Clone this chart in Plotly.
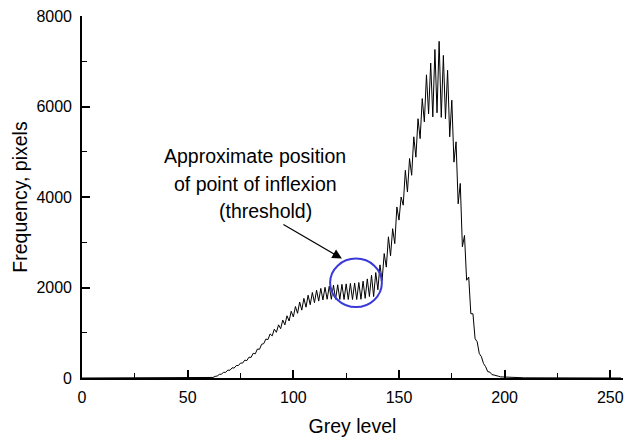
import plotly.graph_objects as go

# ---- data -------------------------------------------------------------
grey_levels = list(range(256))

freq_0_59 = [0, 0, 0, 0, 0, 0, 0, 0, 0, 0, 0, 0, 0, 0, 0, 0, 0, 0, 0, 0,
             0, 0, 0, 0, 0, 0, 0, 0, 0, 0, 0, 0, 0, 0, 0, 0, 0, 0, 0, 0,
             0, 0, 0, 0, 0, 0, 0, 0, 0, 0, 0, 0, 0, 0, 0, 0, 0, 0, 0, 0]

freq_60_139 = [0, 5, 12, 35, 45, 80, 85, 125, 125, 175,
               170, 225, 220, 275, 275, 330, 330, 395, 385, 460,
               455, 545, 535, 640, 635, 745, 760, 860, 850, 975,
               930, 1080, 1010, 1175, 1090, 1280, 1175, 1375, 1260, 1475,
               1350, 1580, 1430, 1680, 1500, 1760, 1565, 1830, 1620, 1890,
               1665, 1940, 1700, 1980, 1725, 2005, 1740, 2030, 1740, 2050,
               1740, 2060, 1735, 2070, 1735, 2080, 1735, 2090, 1735, 2100,
               1735, 2110, 1740, 2140, 1760, 2190, 1800, 2270, 1800, 2330]

freq_140_199 = [1950, 2500, 2150, 2750, 2450, 3120, 2700, 3300, 2970, 3780,
                3490, 4000, 3820, 4590, 4110, 4850, 4480, 5330, 4880, 5730,
                5290, 6175, 5660, 6700, 5840, 6960, 5770, 7260, 5860, 7440,
                5760, 7130, 5730, 6800, 5330, 6140, 4770, 5220, 3850, 4300,
                2900, 3150, 2160, 2230, 1420, 1420, 870, 800, 540, 470,
                320, 250, 140, 130, 75, 65, 45, 40, 25, 22]

freq_200_255 = [15, 12, 10, 9, 8, 7, 6, 6, 5, 5,
                4, 4, 3, 3, 3, 2, 2, 2, 2, 1,
                1, 1, 1, 1, 1, 1, 1, 1, 1, 1,
                1, 1, 1, 1, 1, 1, 0, 0, 0, 0,
                0, 0, 0, 0, 0, 0, 0, 0, 0, 0,
                0, 0, 0, 0, 0, 0]

frequency = freq_0_59 + freq_60_139 + freq_140_199 + freq_200_255

x_ticks = [0, 50, 100, 150, 200, 250]
y_ticks = [0, 2000, 4000, 6000, 8000]

annotation_lines = ["Approximate position", "of point of inflexion", "(threshold)"]

# ---- figure -----------------------------------------------------------
FONT = "Liberation Sans, Arial, Helvetica, sans-serif"

fig = go.Figure()
fig.add_trace(go.Scatter(x=grey_levels, y=frequency, mode="lines",
                         line=dict(color="black", width=1),
                         showlegend=False, hoverinfo="skip"))

axis_common = dict(
    showline=True, linecolor="black", linewidth=1.6,
    showgrid=False, zeroline=False,
    ticks="inside", ticklen=8, tickwidth=1.6, tickcolor="black",
    tickfont=dict(family=FONT, size=16, color="black"),
)

fig.update_layout(
    width=625, height=441,
    margin=dict(l=82, r=2, t=16, b=63),
    paper_bgcolor="white", plot_bgcolor="white",
    font=dict(family=FONT, size=16, color="black"),
    xaxis=dict(
        range=[0, 256], tickvals=x_ticks, ticklabelstandoff=4,
        minor=dict(ticks="inside", ticklen=5, tickwidth=1.4, tickcolor="black",
                   dtick=25, tick0=0, showgrid=False),
        title=dict(text="Grey level", font=dict(family=FONT, size=19.5), standoff=14),
        **axis_common),
    yaxis=dict(
        range=[0, 8000], tickvals=y_ticks, ticklabelstandoff=5,
        minor=dict(ticks="inside", ticklen=5, tickwidth=1.4, tickcolor="black",
                   dtick=1000, tick0=0, showgrid=False),
        title=dict(text="Frequency, pixels", font=dict(family=FONT, size=19.5), standoff=4),
        **axis_common),
)

# annotation text, three lines
fig.add_annotation(x=81.9, y=4910, xref="x", yref="y", text=annotation_lines[0],
                   showarrow=False, font=dict(family=FONT, size=19.5), xanchor="center", yanchor="middle")
fig.add_annotation(x=81.9, y=4281, xref="x", yref="y", text=annotation_lines[1],
                   showarrow=False, font=dict(family=FONT, size=19.5), xanchor="center", yanchor="middle")
fig.add_annotation(x=86.6, y=3684, xref="x", yref="y", text=annotation_lines[2],
                   showarrow=False, font=dict(family=FONT, size=19.5), xanchor="center", yanchor="middle")

# arrow
fig.add_annotation(x=123.0, y=2639, ax=94.6, ay=3412, xref="x", yref="y",
                   axref="x", ayref="y", text="", showarrow=True,
                   arrowhead=2, arrowsize=1.6, arrowwidth=1.2, arrowcolor="black")

# blue circle
fig.add_shape(type="circle", xref="x", yref="y",
              x0=117.4, x1=141.9, y0=1569, y1=2639,
              line=dict(color="#3a3ad8", width=2))

fig.write_html("out.html")
